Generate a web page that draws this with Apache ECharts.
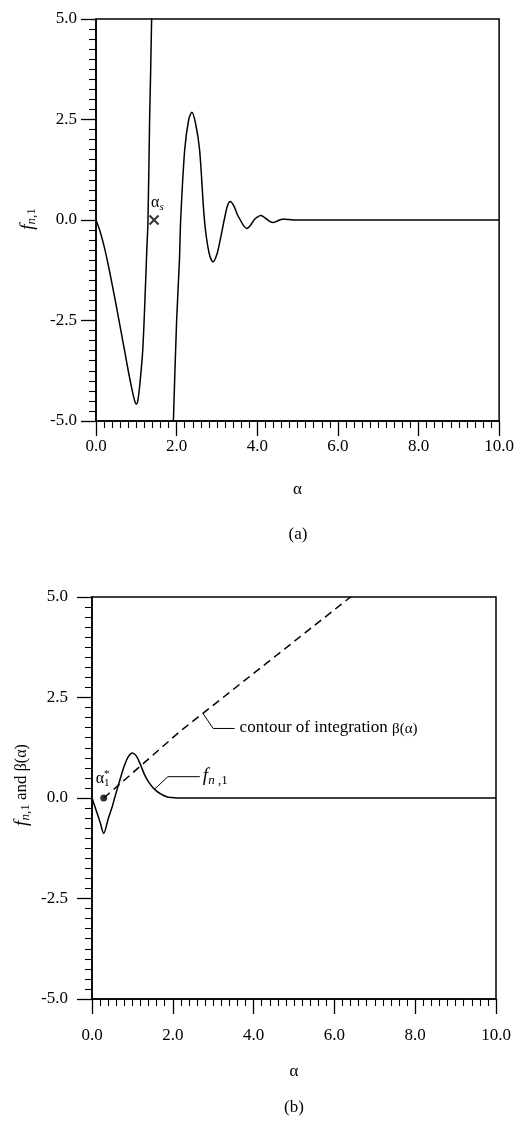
<!DOCTYPE html>
<html>
<head>
<meta charset="utf-8">
<script src="https://cdn.jsdelivr.net/npm/echarts@6/dist/echarts.min.js"></script>
<style>
  html, body { margin: 0; padding: 0; background: #fff; }
  #chart { width: 517px; height: 1123px; }
</style>
</head>
<body>
<div id="chart"></div>
<script>
// ---- (a) f_{n,1} along the real axis: branch left of the singular point α_s
const fA_left = [[0, 0], [0.1, -0.28], [0.2, -0.65], [0.3, -1.1], [0.4, -1.6], [0.5, -2.12],
  [0.6, -2.66], [0.7, -3.2], [0.8, -3.75], [0.9, -4.25], [0.96, -4.5], [1.0, -4.58],
  [1.04, -4.48], [1.09, -4.06], [1.16, -3.23], [1.23, -1.57], [1.26, -0.75], [1.29, 0],
  [1.33, 2.5], [1.38, 5], [1.41, 9]];

// ---- (a) branch right of α_s, decaying to zero
const fA_right = [[1.80, -9], [1.92, -5], [2.0, -2.5], [2.07, -1.0], [2.1, 0], [2.2, 1.74],
  [2.3, 2.5], [2.38, 2.68], [2.47, 2.4], [2.57, 1.74], [2.69, 0], [2.8, -0.8], [2.9, -1.04],
  [3.0, -0.85], [3.08, -0.5], [3.18, 0], [3.26, 0.35], [3.33, 0.46], [3.42, 0.35], [3.5, 0.15],
  [3.58, 0], [3.66, -0.14], [3.74, -0.21], [3.82, -0.15], [3.92, 0], [4.0, 0.07], [4.08, 0.11],
  [4.16, 0.08], [4.25, 0.01], [4.32, -0.04], [4.39, -0.06], [4.47, -0.04], [4.55, 0],
  [4.62, 0.02], [4.7, 0.02], [4.8, 0.01], [5.0, 0], [5.3, 0], [10, 0]];

// singular point α_s
const alphaS = [[1.44, 0]];

// ---- (b) f_{n,1} along the deformed contour
const fB = [[0, 0], [0.1, -0.3], [0.2, -0.6], [0.29, -0.88], [0.4, -0.52], [0.5, -0.22],
  [0.56, 0], [0.7, 0.48], [0.8, 0.8], [0.9, 1.03], [1.0, 1.12], [1.1, 1.04], [1.2, 0.83],
  [1.3, 0.58], [1.4, 0.4], [1.5, 0.27], [1.6, 0.17], [1.7, 0.1], [1.8, 0.05], [1.9, 0.02],
  [2.0, 0.01], [2.2, 0], [10, 0]];

// ---- (b) contour of integration β(α), starting at α1*
const beta = [[0.29, 0], [1.0, 0.62], [2.17, 1.65], [4.0, 3.1], [6.4, 5.0]];
const alpha1 = [[0.29, 0]];

// axis ranges and tick steps
const xRange = [0, 10], xStep = 2, xMinor = 10;
const yRange = [-5, 5], yStep = 2.5, yMinor = 10;

// leader lines for the call-outs in (b), in data units
const betaLeader = [[2.75, 2.1], [3.0, 1.73], [3.53, 1.73]];
const fLeader = [[1.55, 0.22], [1.88, 0.53], [2.67, 0.53]];

const SERIF = '"Liberation Serif", "Times New Roman", serif';
const INK = '#000';

function xAxis(gridIndex, labelMargin, nameGap) {
  return {
    type: 'value', gridIndex, min: xRange[0], max: xRange[1], interval: xStep,
    axisLine: { onZero: false, lineStyle: { color: INK, width: 1.5 } },
    axisTick: { length: 15, lineStyle: { color: INK, width: 1.3 } },
    minorTick: { show: true, splitNumber: xMinor, length: 7, lineStyle: { color: INK, width: 1.1 } },
    splitLine: { show: false },
    axisLabel: { margin: labelMargin, color: INK, fontFamily: SERIF, fontSize: 17,
      formatter: v => v.toFixed(1) },
    name: 'α', nameLocation: 'middle', nameGap,
    nameTextStyle: { color: INK, fontFamily: SERIF, fontSize: 17 }
  };
}
function yAxis(gridIndex, labelMargin) {
  return {
    type: 'value', gridIndex, min: yRange[0], max: yRange[1], interval: yStep,
    axisLine: { onZero: false, lineStyle: { color: INK, width: 1.5 } },
    axisTick: { length: 15, lineStyle: { color: INK, width: 1.3 } },
    minorTick: { show: true, splitNumber: yMinor, length: 7, lineStyle: { color: INK, width: 1.1 } },
    splitLine: { show: false },
    axisLabel: { margin: labelMargin, color: INK, fontFamily: SERIF, fontSize: 17,
      formatter: v => v.toFixed(1) }
  };
}
function curve(data, grid, extra) {
  return Object.assign({
    type: 'line', data, xAxisIndex: grid, yAxisIndex: grid, showSymbol: false, symbol: 'none',
    smooth: 0.3, clip: true, silent: true,
    lineStyle: { color: INK, width: 1.5 }
  }, extra || {});
}

const chart = echarts.init(document.getElementById('chart'));
chart.setOption({
  animation: false,
  backgroundColor: '#fff',
  grid: [
    { left: 96, top: 19, width: 404, height: 402, show: true, borderColor: INK, borderWidth: 1.5 },
    { left: 92, top: 597, width: 404, height: 402, show: true, borderColor: INK, borderWidth: 1.5 }
  ],
  xAxis: [xAxis(0, 17, 60), xAxis(1, 28, 64)],
  yAxis: [yAxis(0, 19), yAxis(1, 24)],
  series: [
    curve(fA_left, 0),
    curve(fA_right, 0),
    {
      type: 'scatter', data: alphaS, xAxisIndex: 0, yAxisIndex: 0, silent: true,
      symbol: 'path://M0,0L10,10M10,0L0,10', symbolSize: 9,
      itemStyle: { color: 'transparent', borderColor: INK, borderWidth: 2 }
    },
    curve(fB, 1),
    curve(beta, 1, { smooth: false, lineStyle: { color: INK, width: 1.5, type: [8, 5] } }),
    {
      type: 'scatter', data: alpha1, xAxisIndex: 1, yAxisIndex: 1, silent: true,
      symbol: 'circle', symbolSize: 7, itemStyle: { color: INK }, z: 5
    },
    curve(betaLeader, 1, { smooth: false, lineStyle: { color: INK, width: 1 } }),
    curve(fLeader, 1, { smooth: false, lineStyle: { color: INK, width: 1 } })
  ]
});

// ---- text call-outs with sub/superscripts, built from runs of text
const measure = document.createElement('canvas').getContext('2d');
function fontOf(p) { return (p.it ? 'italic ' : '') + p.s + 'px ' + SERIF; }
function runs(parts) {
  let x = 0;
  const children = [];
  parts.forEach(p => {
    const font = fontOf(p);
    measure.font = font;
    const w = measure.measureText(p.t).width;
    children.push({
      type: 'text', x: x + (p.dx || 0), y: p.dy || 0, silent: true,
      style: { text: p.t, font, fill: INK, align: 'left', verticalAlign: 'middle',
               textAlign: 'left', textVerticalAlign: 'middle' }
    });
    if (!p.stack) x += w + (p.dx || 0);
  });
  return { children, width: x };
}
function textAt(x, y, parts, anchor, rotation) {
  const r = runs(parts);
  const off = anchor === 'center' ? -r.width / 2 : anchor === 'right' ? -r.width : 0;
  r.children.forEach(c => { c.x += off; });
  return { type: 'group', x, y, rotation: rotation || 0, children: r.children };
}

const px = (g, p) => chart.convertToPixel({ gridIndex: g }, p);
const pS = px(0, alphaS[0]);
const p1 = px(1, alpha1[0]);
const pBeta = px(1, betaLeader[betaLeader.length - 1]);
const pF = px(1, fLeader[fLeader.length - 1]);

chart.setOption({
  graphic: [
    // y-axis titles
    textAt(28, 219, [{ t: 'f', s: 19, it: true }, { t: 'n', s: 13, it: true, dy: 4 },
      { t: ',1', s: 13, dy: 4 }], 'center', Math.PI / 2),
    textAt(22, 785, [{ t: 'f', s: 19, it: true }, { t: 'n', s: 13, it: true, dy: 4 },
      { t: ',1', s: 13, dy: 4 }, { t: ' and ', s: 17 }, { t: 'β(α)', s: 16 }], 'center', Math.PI / 2),
    // α_s
    textAt(pS[0] - 3, pS[1] - 17, [{ t: 'α', s: 16 }, { t: 's', s: 11, it: true, dy: 4 }], 'left'),
    // α1*
    textAt(p1[0] - 8, p1[1] - 19, [{ t: 'α', s: 16 }, { t: '*', s: 11, dy: -5, stack: true },
      { t: '1', s: 11, dy: 4 }], 'left'),
    // call-outs
    textAt(pBeta[0] + 5, pBeta[1] - 1, [{ t: 'contour of integration ', s: 17 }, { t: 'β(α)', s: 15, dy: 2 }], 'left'),
    textAt(pF[0] + 3, pF[1] - 1, [{ t: 'f', s: 19, it: true }, { t: 'n', s: 13, it: true, dy: 5 },
      { t: ' ,1', s: 13, dy: 5 }], 'left'),
    // panel captions
    textAt(298, 535, [{ t: '(a)', s: 17 }], 'center'),
    textAt(294, 1108, [{ t: '(b)', s: 17 }], 'center')
  ]
});
</script>
</body>
</html>
